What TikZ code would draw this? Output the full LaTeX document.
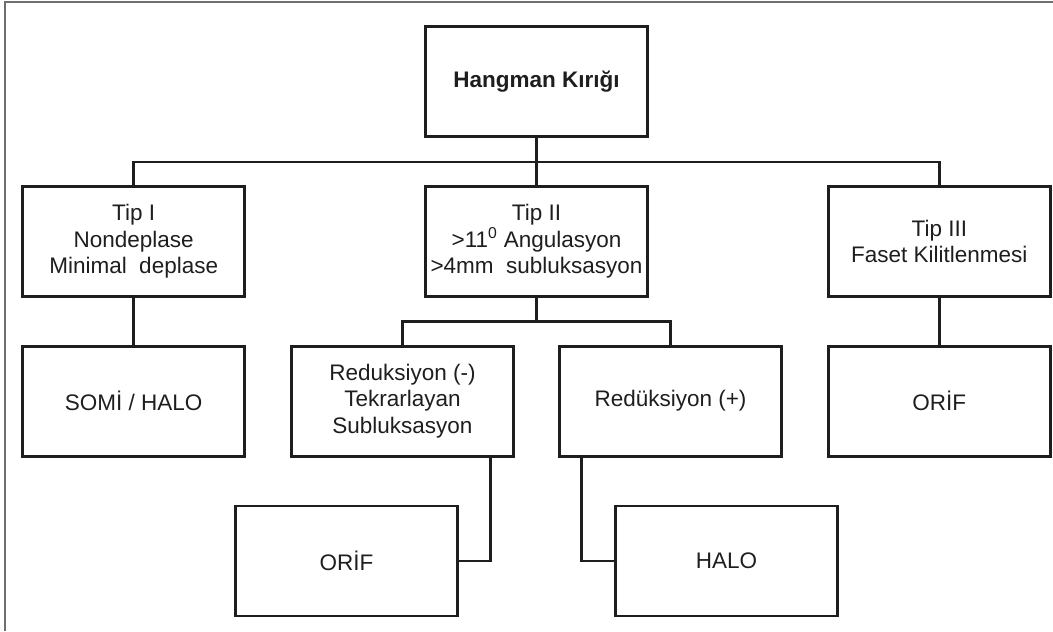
\documentclass[tikz,border=0pt]{standalone}
\usepackage{fontspec}
\setmainfont{Liberation Sans}
\usepackage{tikz}
\usetikzlibrary{positioning}
\definecolor{framegray}{HTML}{6E6E6E}
\definecolor{inkdark}{HTML}{1E1E1E}

\begin{document}
\begin{tikzpicture}[
  node distance=11.75mm and 44.5mm,
  box/.style={draw=inkdark,line width=2pt,minimum width=55.5mm,minimum height=27.5mm,align=center,text=inkdark,font=\fontsize{16}{19}\selectfont},
  link/.style={draw=inkdark,line width=2pt}
]
\useasboundingbox (-13.4125,-13.7375) rectangle (12.9125,2.0375);
\draw[framegray,line width=1pt] (-13.2875,-13.7375) -- (-13.2875,1.9875) -- (12.9125,1.9875);
\node[box,font=\fontsize{16}{19}\selectfont\bfseries] (hk) {Hangman Kırığı};
\node[box,below=of hk] (tip2) {Tip II\\>11\textsuperscript{0} Angulasyon\\>4mm~ subluksasyon};
\node[box,left=of tip2] (tip1) {Tip I\\Nondeplase\\Minimal~ deplase};
\node[box,right=of tip2] (tip3) {Tip III\\Faset Kilitlenmesi};
\node[box,below=of tip1] (somi) {SOMİ / HALO};
\node[box,below=of tip3] (orif) {ORİF};
\node[box,below=of tip2,xshift=-3.35cm] (redm) {Reduksiyon (-)\\Tekrarlayan\\Subluksasyon};
\node[box,below=of tip2,xshift=3.35cm] (redp) {Redüksiyon (+)};
\node[box,below=of redm,xshift=-1.4cm] (orifb) {ORİF};
\node[box,below=of redp,xshift=1.4cm] (halo) {HALO};
\draw[link] (hk)--(tip2);
\draw[link] (tip1.north)--++(0,0.575)-|(tip3.north);
\draw[link] (tip1)--(somi);
\draw[link] (tip3)--(orif);
\draw[link] (tip2.south)--++(0,-0.6);
\draw[link] (redm.north)--++(0,0.575)-|(redp.north);
\draw[link] ([xshift=2.2cm]redm.south)|-(orifb.east);
\draw[link] ([xshift=-2.225cm]redp.south)|-(halo.west);
\end{tikzpicture}
\end{document}
